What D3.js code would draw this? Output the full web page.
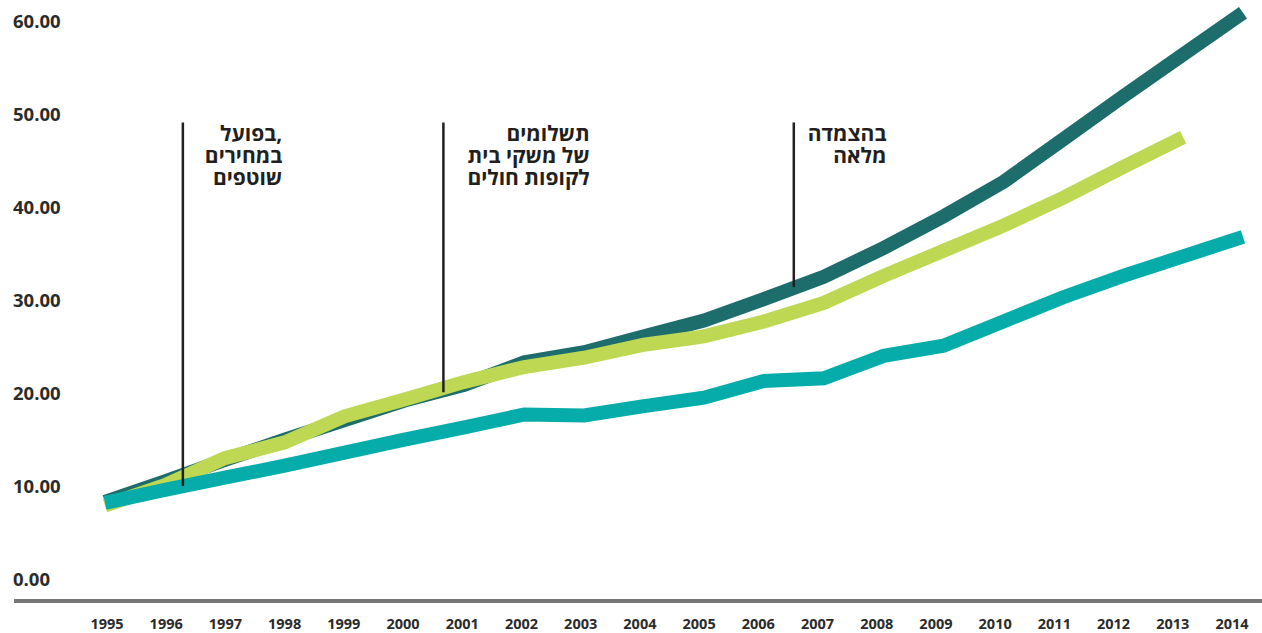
<!DOCTYPE html>
<html lang="he">
<head>
<meta charset="UTF-8">
<title>Line chart</title>
<style>
  body { margin: 0; background: #fff; }
  svg { display: block; }
  .tick-label { font-family: "Open Sans", "DejaVu Sans", sans-serif; font-weight: 700; fill: #2b2b2b; }
  .note { font-family: "Open Sans", "DejaVu Sans", sans-serif; font-weight: 700; fill: #231f20; font-size: 21px; }
</style>
</head>
<body>
<svg width="1262" height="633"></svg>
<script src="https://d3js.org/d3.v7.min.js"></script>
<script>
  const years = d3.range(1995, 2015);
  const yTicks = [0, 10, 20, 30, 40, 50, 60];

  // series
  const darkSeries = [8.4, 10.6, 12.9, 15.1, 17.2, 19.3, 21.0, 23.4, 24.5, 26.2, 27.9, 30.2, 32.6, 35.7, 39.1, 42.8, 47.4, 52.0, 56.5, 61.0];
  const limeSeries = [8.0, 10.2, 13.1, 14.8, 17.6, 19.4, 21.3, 22.9, 23.9, 25.3, 26.2, 27.8, 29.8, 32.7, 35.4, 38.1, 41.1, 44.4, 47.6];
  const tealSeries = [8.3, 9.7, 11.0, 12.3, 13.7, 15.1, 16.4, 17.8, 17.7, 18.7, 19.6, 21.4, 21.7, 24.1, 25.2, 27.8, 30.4, 32.7, 34.8, 36.9];

  // vertical markers: year position, bottom and top value, label lines
  const noteYears = [1996.3, 2000.65, 2006.5];
  const noteBottoms = [10.1, 20.2, 31.5];
  const noteTop = 49.2;
  const noteLabels = [
    ["בפועל,", "במחירים", "שוטפים"],
    ["תשלומים", "של משקי בית", "לקופות חולים"],
    ["בהצמדה", "מלאה"]
  ];

  const svg = d3.select("svg");

  const x = d3.scaleLinear().domain([1995, 2014]).range([105, 1243]);
  const xLabel = d3.scalePoint().domain(years).range([107, 1232]);
  const y = d3.scaleLinear().domain([0, 60]).range([580, 22]);

  // y labels
  svg.append("g").selectAll("text")
    .data(yTicks)
    .enter().append("text")
    .attr("class", "tick-label")
    .attr("x", 13)
    .attr("y", d => y(d))
    .attr("dy", "0.35em")
    .attr("font-size", "18.5px")
    .text(d => d.toFixed(2));

  // baseline
  svg.append("line")
    .attr("x1", 14).attr("x2", 1262)
    .attr("y1", 601).attr("y2", 601)
    .attr("stroke", "#777")
    .attr("stroke-width", 4);

  // x labels
  svg.append("g").selectAll("text")
    .data(years)
    .enter().append("text")
    .attr("class", "tick-label")
    .attr("x", d => xLabel(d))
    .attr("y", 624)
    .attr("dy", "0.35em")
    .attr("text-anchor", "middle")
    .attr("font-size", "14.5px")
    .text(d => d);

  const line = d3.line()
    .x((d, i) => x(years[i]))
    .y(d => y(d));

  const series = [
    { values: darkSeries, color: "#1c6d6b" },
    { values: limeSeries, color: "#bed853" },
    { values: tealSeries, color: "#06aca9" }
  ];

  svg.append("g").selectAll("path")
    .data(series)
    .enter().append("path")
    .attr("d", d => line(d.values))
    .attr("fill", "none")
    .attr("stroke", d => d.color)
    .attr("stroke-width", 14)
    .attr("stroke-linecap", "butt")
    .attr("stroke-linejoin", "miter");

  // annotation lines and text (each line right-aligned; a trailing comma is
  // drawn as its own glyph so it sits on the right, as in the original)
  const noteGap = [22, 24, 14];
  noteYears.forEach((yr, i) => {
    const nx = x(yr);
    svg.append("line")
      .attr("x1", nx).attr("x2", nx)
      .attr("y1", y(noteTop)).attr("y2", y(noteBottoms[i]))
      .attr("stroke", "#231f20")
      .attr("stroke-width", 2.5);

    const g = svg.append("g");
    const rows = noteLabels[i].map((s, j) => {
      const hasComma = s.endsWith(",");
      const ty = y(noteTop) + 19 + j * 22;
      const word = g.append("text").attr("class", "note")
        .attr("text-anchor", "end").attr("y", ty)
        .text(hasComma ? s.slice(0, -1) : s);
      const comma = hasComma
        ? g.append("text").attr("class", "note").attr("text-anchor", "end").attr("y", ty).text(",")
        : null;
      const cw = comma ? comma.node().getComputedTextLength() : 0;
      return { word, comma, cw, w: word.node().getComputedTextLength() + cw };
    });
    const right = nx + noteGap[i] + d3.max(rows, r => r.w);
    rows.forEach(r => {
      r.word.attr("x", right - r.cw);
      if (r.comma) r.comma.attr("x", right);
    });
  });
</script>
</body>
</html>
